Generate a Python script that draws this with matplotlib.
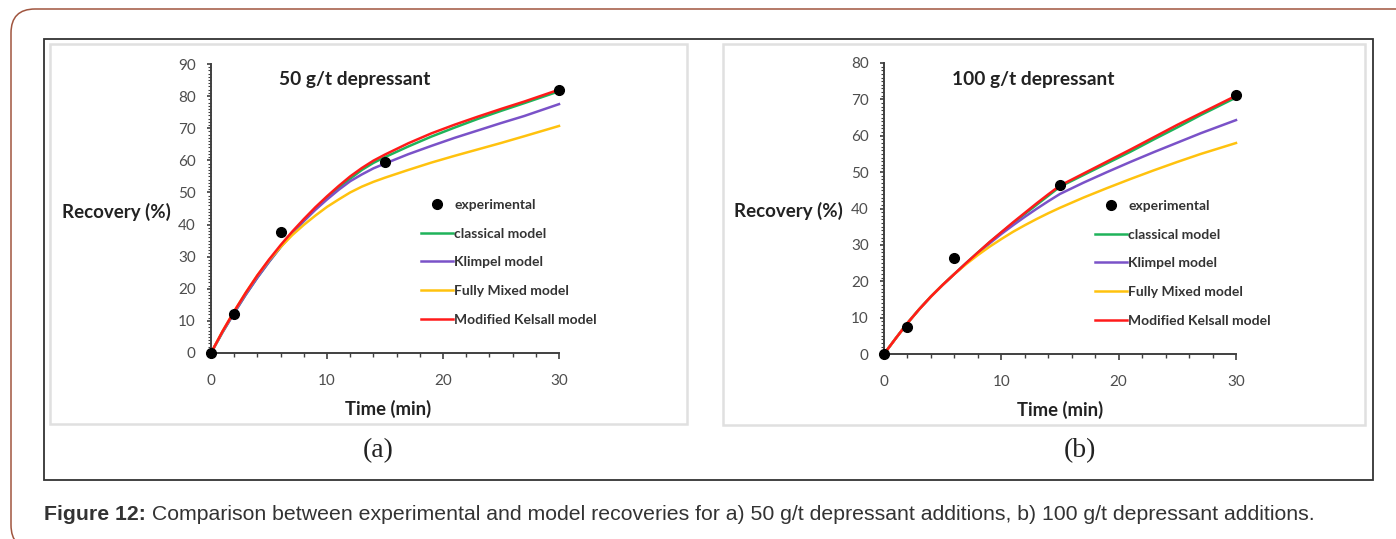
import matplotlib.pyplot as plt
from matplotlib.patches import Rectangle, FancyBboxPatch
from matplotlib.transforms import IdentityTransform
from matplotlib.ticker import MultipleLocator

W, H = 1396, 539

# experimental recoveries (%)
times_exp = [0, 2, 6, 15, 30]
exp_50 = [0, 12.2, 37.6, 59.6, 81.9]
exp_100 = [0, 7.3, 26.4, 46.4, 71.3]

times_model = [0, 1, 2, 3, 4, 5, 6, 7, 8, 9, 10, 11, 12, 13, 14, 15,
               17, 19, 21, 23, 25, 27, 30]

classical_50 = [0, 6.5, 12.5, 18.2, 23.5, 28.4, 33.0, 37.2, 41.1, 44.8, 48.2, 51.4,
                54.3, 57.0, 59.2, 61.0, 64.3, 67.4, 70.2, 72.9, 75.4, 77.8, 81.5]
klimpel_50 = [0, 6.5, 12.5, 18.2, 23.5, 28.4, 33.0, 37.2, 41.1, 44.6, 47.8, 50.8,
              53.5, 55.6, 57.5, 59.0, 61.9, 64.5, 67.0, 69.3, 71.6, 73.8, 77.5]
mixed_50 = [0, 6.8, 13.0, 18.8, 24.2, 28.9, 33.0, 36.7, 39.9, 42.8, 45.5, 47.8,
            50.0, 51.8, 53.3, 54.6, 57.0, 59.3, 61.4, 63.4, 65.4, 67.5, 70.7]
kelsall_50 = [0, 6.8, 13.0, 18.8, 24.2, 29.1, 33.6, 37.8, 41.7, 45.4, 48.8, 52.0,
              55.0, 57.6, 59.9, 61.8, 65.3, 68.4, 71.1, 73.6, 76.0, 78.3, 82.0]

classical_100 = [0, 4.3, 8.5, 12.3, 15.8, 19.0, 22.0, 25.0, 27.9, 30.7, 33.4, 36.0,
                 38.5, 41.0, 43.5, 46.0, 49.2, 52.4, 55.6, 59.0, 62.3, 65.7, 70.5]
klimpel_100 = [0, 4.3, 8.5, 12.3, 15.8, 19.0, 22.0, 24.9, 27.7, 30.4, 33.0, 35.4,
               37.7, 39.9, 42.0, 44.0, 47.1, 50.0, 52.8, 55.5, 58.1, 60.7, 64.3]
mixed_100 = [0, 4.3, 8.5, 12.3, 15.8, 19.0, 22.0, 24.7, 27.2, 29.5, 31.6, 33.6,
             35.4, 37.1, 38.7, 40.2, 43.0, 45.6, 48.1, 50.5, 52.8, 55.0, 58.0]
kelsall_100 = [0, 4.3, 8.5, 12.3, 15.8, 19.0, 22.0, 25.0, 27.9, 30.8, 33.5, 36.2,
               38.8, 41.4, 43.9, 46.3, 49.6, 52.9, 56.2, 59.6, 63.0, 66.2, 71.0]

labels = ['experimental', 'classical model', 'Klimpel model',
          'Fully Mixed model', 'Modified Kelsall model']
colors = ['#1fb35a', '#7a52c8', '#ffc20e', '#ff1a1a']

font = 'Lato'
tick_grey = '#4d4d4d'

fig = plt.figure(figsize=(W / 100, H / 100), dpi=100)
px = IdentityTransform()

# page frame, outer box and the two panel boxes
fig.patches.append(FancyBboxPatch((11, -10), 1430, 530 + 10, boxstyle='round,pad=0,rounding_size=24',
                                  fill=False, ec='#a0553f', lw=1.1, transform=px, figure=fig))
fig.patches.append(Rectangle((44, H - 480), 1329, 441, fill=False, ec='#333333', lw=1.3,
                             transform=px, figure=fig))
fig.patches.append(Rectangle((50, H - 424), 637, 380, fill=False, ec='#e0e0e0', lw=1.8,
                             transform=px, figure=fig))
fig.patches.append(Rectangle((723, H - 425), 642, 381, fill=False, ec='#e0e0e0', lw=1.8,
                             transform=px, figure=fig))


def panel(rect, ymax, exp, models, title, title_xy, leg_xy):
    ax = fig.add_axes(rect)
    ax.plot(times_exp, exp, 'o', color='black', ms=7, clip_on=False, zorder=5,
            label=labels[0])
    for vals, lab, c in zip(models, labels[1:], colors):
        ax.plot(times_model, vals, '-', color=c, lw=1.8, label=lab, clip_on=False,
                solid_joinstyle='round')
    ax.set_xlim(0, 30)
    ax.set_ylim(0, ymax)
    ax.xaxis.set_major_locator(MultipleLocator(10))
    ax.xaxis.set_minor_locator(MultipleLocator(2))
    ax.yaxis.set_major_locator(MultipleLocator(10))
    ax.yaxis.set_minor_locator(MultipleLocator(1))
    for s in ['top', 'right']:
        ax.spines[s].set_visible(False)
    for s in ['left', 'bottom']:
        ax.spines[s].set_color('#404040')
        ax.spines[s].set_linewidth(1.4)
    ax.tick_params(axis='x', which='major', length=4, width=1.2, color='#404040',
                   pad=11, labelsize=11, labelcolor=tick_grey)
    ax.tick_params(axis='x', which='minor', length=3, width=1.0, color='#404040')
    ax.tick_params(axis='y', which='major', length=3, width=1.2, color='#404040',
                   pad=8, labelsize=11, labelcolor=tick_grey)
    ax.tick_params(axis='y', which='minor', length=2, width=0.8, color='#404040')
    for t in ax.get_xticklabels() + ax.get_yticklabels():
        t.set_fontfamily(font)
    ax.patch.set_alpha(0)

    fig.text(title_xy[0] / W, 1 - title_xy[1] / H, title, fontsize=13.8, fontweight='bold',
             family=font, ha='left', va='center', color='#222222')
    leg = ax.legend(loc='upper left', bbox_to_anchor=(leg_xy[0] / W, 1 - leg_xy[1] / H),
                    bbox_transform=fig.transFigure, frameon=False, borderpad=0,
                    borderaxespad=0, numpoints=1, handlelength=2.3, handletextpad=0.1,
                    labelspacing=1.2, prop={'family': font, 'size': 10, 'weight': 'bold'})
    for t in leg.get_texts():
        t.set_color('#333333')
    return ax


panel([211 / W, 1 - 353 / H, 348 / W, 289 / H], 90, exp_50,
      [classical_50, klimpel_50, mixed_50, kelsall_50],
      '50 g/t depressant', (279, 80), (421, 199))
panel([884 / W, 1 - 354 / H, 352 / W, 291 / H], 80, exp_100,
      [classical_100, klimpel_100, mixed_100, kelsall_100],
      '100 g/t depressant', (952, 80), (1095, 200))

for x, y in [(116, 212), (788, 211)]:
    fig.text(x / W, 1 - y / H, 'Recovery (%)', fontsize=13.5, fontweight='bold', family=font,
             ha='center', va='center', color='#222222')
for x, y in [(388, 409), (1060, 410)]:
    fig.text(x / W, 1 - y / H, 'Time (min)', fontsize=13.3, fontweight='bold', family=font,
             ha='center', va='center', color='#222222')

fig.text(378 / W, 1 - 451 / H, '(a)', fontsize=20, family='Liberation Serif',
         ha='center', va='center', color='#222222')
fig.text(1080 / W, 1 - 451 / H, '(b)', fontsize=20, family='Liberation Serif',
         ha='center', va='center', color='#222222')

cap = fig.text(44 / W, 1 - 515 / H, 'Figure 12:', fontsize=15.3, fontweight='bold',
               family='Liberation Sans', ha='left', va='center', color='#333333')
plt.annotate(' Comparison between experimental and model recoveries for a) 50 g/t depressant '
             'additions, b) 100 g/t depressant additions.', xy=(1, 0.5), xycoords=cap,
             fontsize=15.3, family='Liberation Sans', ha='left', va='center', color='#333333')

fig.savefig('out.png', dpi=100)
